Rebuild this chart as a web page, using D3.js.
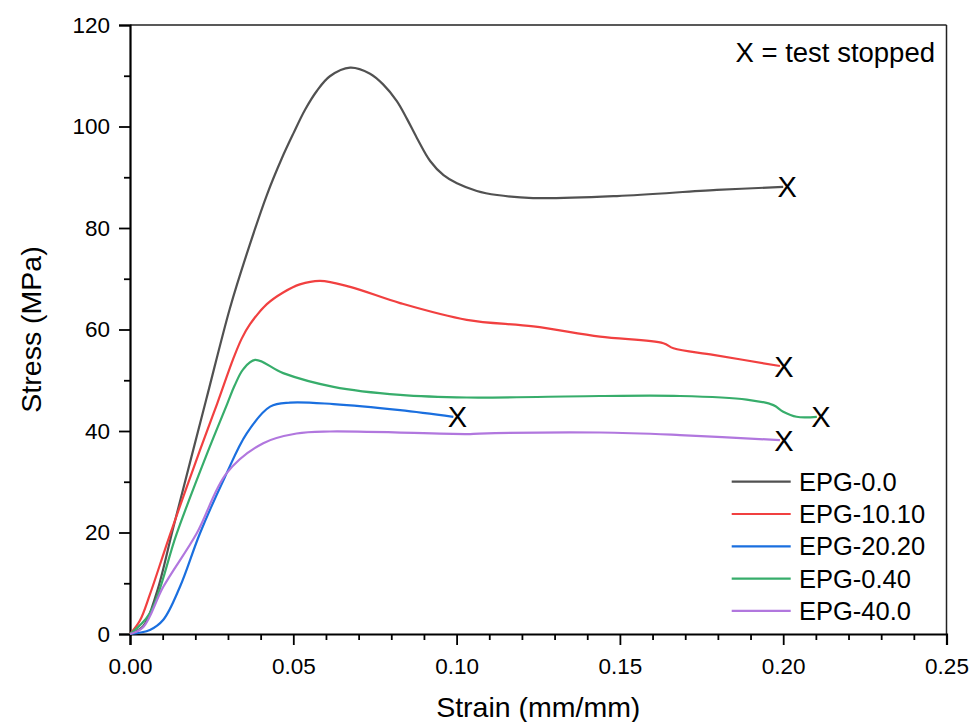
<!DOCTYPE html>
<html>
<head>
<meta charset="utf-8">
<script src="https://cdn.jsdelivr.net/npm/d3@7"></script>
<style>
  html, body { margin: 0; padding: 0; background: #fff; }
  svg { display: block; font-family: "Liberation Sans", Arial, sans-serif; }
</style>
</head>
<body>
<svg id="chart" width="978" height="722"></svg>
<script>
// ---- Data ----
const seriesNames = ["EPG-0.0", "EPG-10.10", "EPG-20.20", "EPG-0.40", "EPG-40.0"];
const seriesColors = ["#515151", "#F14040", "#1A6FDF", "#37AD6B", "#B177DE"];

const strainEPG0_0 = [0, 0.0041, 0.0082, 0.0133, 0.0233, 0.0306, 0.0357, 0.0419, 0.0464, 0.0500, 0.0536, 0.0572, 0.0612, 0.0674, 0.0735, 0.0775, 0.0817, 0.0848, 0.0878, 0.0919, 0.0960, 0.1001, 0.1062, 0.1124, 0.1234, 0.1491, 0.1797, 0.2000];
const stressEPG0_0 = [0, 1.6, 8.2, 21.1, 46.1, 64.2, 74.8, 86.5, 93.6, 98.6, 103.3, 107.0, 109.9, 111.6, 110.4, 108.3, 105.0, 101.5, 97.8, 93.2, 90.4, 88.8, 87.3, 86.5, 85.9, 86.3, 87.5, 88.1];

const strainEPG10_10 = [0, 0.0030, 0.0061, 0.0122, 0.0214, 0.0267, 0.0316, 0.0342, 0.0367, 0.0419, 0.0469, 0.0520, 0.0582, 0.0674, 0.0827, 0.1031, 0.1235, 0.1439, 0.1633, 0.1664, 0.1786, 0.1990];
const stressEPG10_10 = [0, 2.6, 7.8, 19.5, 36.2, 45.4, 54.2, 58.2, 61.0, 65.0, 67.3, 68.9, 69.6, 68.4, 65.2, 61.9, 60.6, 58.6, 57.3, 56.3, 55.0, 52.8];

const strainEPG20_20 = [0, 0.0061, 0.0102, 0.0153, 0.0214, 0.0291, 0.0357, 0.0429, 0.0490, 0.0623, 0.0827, 0.0990];
const stressEPG20_20 = [0, 0.8, 2.8, 9.3, 19.8, 31.0, 39.5, 44.8, 45.6, 45.3, 44.1, 42.8];

const strainEPG0_40 = [0, 0.0061, 0.0143, 0.0235, 0.0298, 0.0320, 0.0347, 0.0383, 0.0469, 0.0623, 0.0827, 0.1031, 0.1439, 0.1684, 0.1888, 0.1970, 0.2000, 0.2041, 0.2103];
const stressEPG0_40 = [0, 4.1, 19.8, 35.4, 45.4, 48.9, 52.2, 54.0, 51.4, 48.7, 47.1, 46.6, 46.9, 46.9, 46.2, 45.1, 43.8, 42.8, 42.8];

const strainEPG40_0 = [0, 0.0041, 0.0102, 0.0204, 0.0296, 0.0408, 0.0510, 0.0612, 0.1031, 0.1070, 0.1439, 0.1684, 0.1990];
const stressEPG40_0 = [0, 1.4, 9.3, 19.8, 31.7, 37.6, 39.5, 39.9, 39.4, 39.5, 39.7, 39.2, 38.2];

const xTicks = [0, 0.05, 0.10, 0.15, 0.20, 0.25];
const yTicks = [0, 20, 40, 60, 80, 100, 120];
const stopLabel = "X";
const noteText = "X = test stopped";
const xTitle = "Strain (mm/mm)";
const yTitle = "Stress (MPa)";

const seriesStrain = [strainEPG0_0, strainEPG10_10, strainEPG20_20, strainEPG0_40, strainEPG40_0];
const seriesStress = [stressEPG0_0, stressEPG10_10, stressEPG20_20, stressEPG0_40, stressEPG40_0];

// ---- Layout ----
const W = 978, H = 722;
const m = { left: 130, right: 31.5, top: 25, bottom: 88 };
const svg = d3.select("#chart");

const x = d3.scaleLinear().domain([0, 0.25]).range([m.left, W - m.right]);
const y = d3.scaleLinear().domain([0, 120]).range([H - m.bottom, m.top]);

// frame (top and right)
svg.append("line").attr("x1", m.left).attr("x2", W - m.right).attr("y1", m.top).attr("y2", m.top)
  .attr("stroke", "#222").attr("stroke-width", 1.5);
svg.append("line").attr("x1", W - m.right).attr("x2", W - m.right).attr("y1", m.top).attr("y2", H - m.bottom)
  .attr("stroke", "#222").attr("stroke-width", 1.5);

// minor ticks
const xMinor = d3.range(0, 26).map(i => i / 100).filter(v => Math.round(v * 100) % 5 !== 0);
const yMinor = d3.range(10, 120, 20);

svg.append("g").attr("transform", `translate(0,${H - m.bottom})`)
  .call(d3.axisBottom(x).tickValues(xTicks).tickFormat(d3.format(".2f")).tickSize(11).tickPadding(13));
svg.append("g").attr("transform", `translate(0,${H - m.bottom})`)
  .call(d3.axisBottom(x).tickValues(xMinor).tickFormat("").tickSize(6))
  .call(g => g.select(".domain").remove());

svg.append("g").attr("transform", `translate(${m.left},0)`)
  .call(d3.axisLeft(y).tickValues(yTicks).tickFormat(d3.format("d")).tickSize(11).tickPadding(9));
svg.append("g").attr("transform", `translate(${m.left},0)`)
  .call(d3.axisLeft(y).tickValues(yMinor).tickFormat("").tickSize(6))
  .call(g => g.select(".domain").remove());

svg.selectAll(".domain").attr("stroke", "#000").attr("stroke-width", 2.2);
svg.selectAll(".tick line").attr("stroke", "#000").attr("stroke-width", 1.8);
svg.selectAll(".tick text").attr("font-size", 22.5).attr("fill", "#000")
  .attr("font-family", "'Liberation Sans', Arial, sans-serif");

// axis titles
svg.append("text").attr("x", (m.left + W - m.right) / 2).attr("y", 717)
  .attr("text-anchor", "middle").attr("font-size", 28.5).attr("fill", "#000").text(xTitle);
svg.append("text").attr("transform", `translate(41,${(m.top + H - m.bottom) / 2}) rotate(-90)`)
  .attr("text-anchor", "middle").attr("font-size", 28.5).attr("fill", "#000").text(yTitle);

// curves
const line = d3.line().x(d => x(d[0])).y(d => y(d[1])).curve(d3.curveCatmullRom.alpha(0.5));
seriesNames.forEach((name, i) => {
  const pts = seriesStrain[i].map((s, j) => [s, seriesStress[i][j]]);
  svg.append("path").datum(pts).attr("d", line)
    .attr("fill", "none").attr("stroke", seriesColors[i]).attr("stroke-width", 2.2)
    .attr("stroke-linejoin", "round");
});

// "X" markers at the end of each curve
seriesNames.forEach((name, i) => {
  const n = seriesStrain[i].length - 1;
  svg.append("text")
    .attr("x", x(seriesStrain[i][n]) + 4)
    .attr("y", y(seriesStress[i][n]) + 10.5)
    .attr("text-anchor", "middle").attr("font-size", 29).attr("fill", "#000").text(stopLabel);
});

// note
svg.append("text").attr("x", 935).attr("y", 62).attr("text-anchor", "end")
  .attr("font-size", 27.5).attr("fill", "#000").text(noteText);

// legend
const lg = svg.append("g");
seriesNames.forEach((name, i) => {
  const cy = 481.7 + i * 32.3;
  lg.append("line").attr("x1", 731.7).attr("x2", 790.7).attr("y1", cy).attr("y2", cy)
    .attr("stroke", seriesColors[i]).attr("stroke-width", 2.2);
  lg.append("text").attr("x", 799).attr("y", cy + 9).attr("font-size", 25.5)
    .attr("fill", "#000").text(name);
});
</script>
</body>
</html>
